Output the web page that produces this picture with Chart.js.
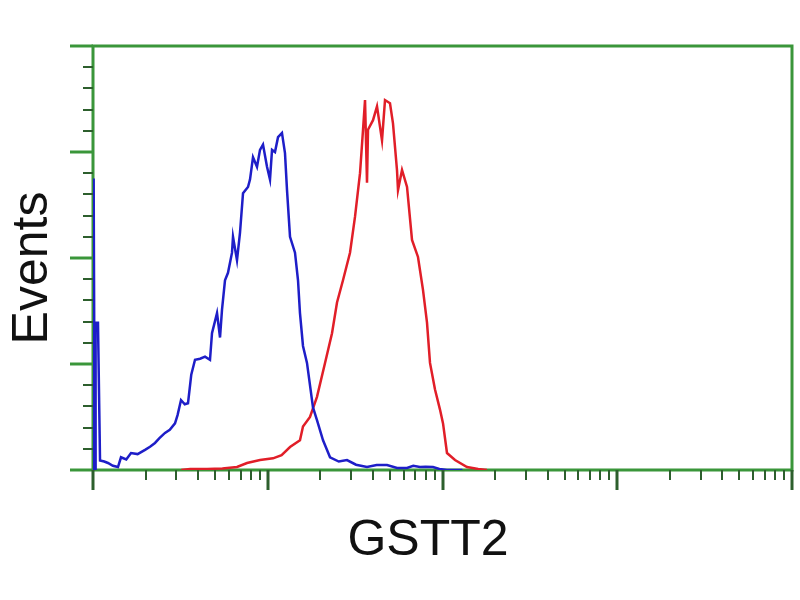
<!DOCTYPE html>
<html>
<head>
<meta charset="utf-8">
<script src="https://cdn.jsdelivr.net/npm/chart.js@4"></script>
<style>
  body { margin:0; background:#fff; }
  #wrap { width:800px; height:600px; }
</style>
</head>
<body>
<div id="wrap"><canvas id="hist"></canvas></div>
<script>
// GSTT2 flow histogram, fluorescence on a log axis (1 .. 10^4)
const blueX = [1.0,1.005,1.012,1.016,1.022,1.028,1.035,1.05,1.068,1.097,1.16,1.218,1.30,1.39,1.446,1.55,1.65,1.80,1.985,2.12,2.263,2.4,2.582,2.75,2.946,3.05,3.189,3.35,3.497,3.65,3.835,4.1,4.376,4.672,4.797,5.125,5.332,5.472,5.693,5.922,6.244,6.327,6.668,6.938,7.218,7.709,7.914,8.234,8.679,9.03,9.394,9.902,10.3,10.58,11.0,11.45,12.06,12.55,12.89,13.41,14.32,14.9,15.29,15.91,16.77,18.15,19.13,20.72,22.72,25.5,28.42,32,36.98,42,48.14,55,62.66,68,74.28,80,88.22,96,106.1,130]
const blueY = [0,275,275,139,139,0,139,139,139,9,8,6.6,4,2.8,12,10,16,15,19,22,25.5,30,35,38,44,52,66,62,63,90,104,105,107,104,129,148,125,151,179,186,205,220,198,224,261,267,274,295,286,302,307,286,274,302,300,314,318,299,264,220,205,179,148,117,101,59,47,28,12,8,9.4,5,2.8,4.7,4.7,2,2,4,2.8,3,2.8,1,0,0]

const redX = [3.2,3.6,4.5,5.5,6.67,7.61,9.03,10.72,12.0,13.41,15.29,15.91,17.45,19.13,21.27,23.32,24.91,26.95,29.56,31.58,33.73,35.09,36.03,36.98,37.47,40.03,42.19,45.06,46.88,50.06,52.08,54.9,55.64,58.66,62.66,66.92,72.4,77.33,81.53,84.82,90.6,96.75,100.7,106.1,117.9,138.1,160,179.7]
const redY = [0,1,1,1.5,2.8,6.6,9.4,11,14,21.7,28,41,50,69,101,129,158,179,205,239,280,321,349,271,321,330,343,311,349,346,327,283,264,283,267,217,201,170,139,101,76,57,44,16,9.4,2.8,1,0]

const xDecades = [1,10,100,1000,10000]
const yMajor = [0,100,200,300,400]
const xTitle = 'GSTT2'
const yTitle = 'Events'

const pts = (xs,ys) => xs.map((v,i)=>({x:v,y:ys[i]}))

const frameGreen = 'rgb(58,150,58)'
const tickGreen = 'rgb(45,95,45)'

const axesPlugin = {
    id:'axesPlugin',
    beforeDatasetsDraw(chart){
        const c = chart.ctx
        const xs = chart.scales.x
        const ys = chart.scales.y
        const a = chart.chartArea
        c.save()
        // frame
        c.strokeStyle = frameGreen
        c.lineWidth = 3
        c.beginPath()
        c.moveTo(a.left,a.bottom); c.lineTo(a.left,a.top)
        c.lineTo(a.right,a.top); c.lineTo(a.right,a.bottom)
        c.lineTo(a.left,a.bottom)
        c.stroke()

        // y ticks
        for (let v=0; v<=400; v+=20){
            const py = Math.round(ys.getPixelForValue(v))
            const major = yMajor.includes(v)
            c.strokeStyle = major ? frameGreen : tickGreen
            c.lineWidth = major ? 3 : 2
            c.beginPath()
            c.moveTo(a.left - (major ? 23 : 10), py)
            c.lineTo(a.left, py)
            c.stroke()
        }
        // x ticks (log)
        for (let d=0; d<xDecades.length; d++){
            const base = xDecades[d]
            for (let m=1; m<=9; m++){
                if (d==xDecades.length-1 && m>1) break
                const px = Math.round(xs.getPixelForValue(base*m))
                const major = m==1
                c.strokeStyle = tickGreen
                c.lineWidth = major ? 3 : 2
                c.beginPath()
                c.moveTo(px, a.bottom)
                c.lineTo(px, a.bottom + (major ? 20 : 10))
                c.stroke()
            }
        }
        c.restore()
    },
    afterDraw(chart){
        const c = chart.ctx
        c.save()
        c.fillStyle = '#111'
        c.font = '50px "Liberation Sans", Arial, sans-serif'
        c.textAlign = 'center'
        c.textBaseline = 'alphabetic'
        c.fillText(xTitle, 428, 555)
        c.translate(47,268)
        c.rotate(-Math.PI/2)
        c.fillText(yTitle, 0, 0)
        c.restore()
    }
}

const cfg = {
    type:'line',
    data:{
        datasets:[
            {
                label:'control',
                data:pts(blueX,blueY),
                borderColor:'rgb(30,30,200)',
                borderWidth:2.5,
                pointRadius:0,
                tension:0
            },
            {
                label:'GSTT2',
                data:pts(redX,redY),
                borderColor:'rgb(225,30,40)',
                borderWidth:2.5,
                pointRadius:0,
                tension:0
            }
        ]
    },
    options:{
        responsive:true,
        maintainAspectRatio:false,
        animation:false,
        layout:{ padding:{left:93, right:8, top:46, bottom:130} },
        plugins:{ legend:{display:false}, tooltip:{enabled:false} },
        scales:{
            x:{ type:'logarithmic', min:1, max:10000, display:false },
            y:{ type:'linear', min:0, max:400, display:false }
        }
    },
    plugins:[axesPlugin]
}

new Chart(document.getElementById('hist'), cfg)
</script>
</body>
</html>
